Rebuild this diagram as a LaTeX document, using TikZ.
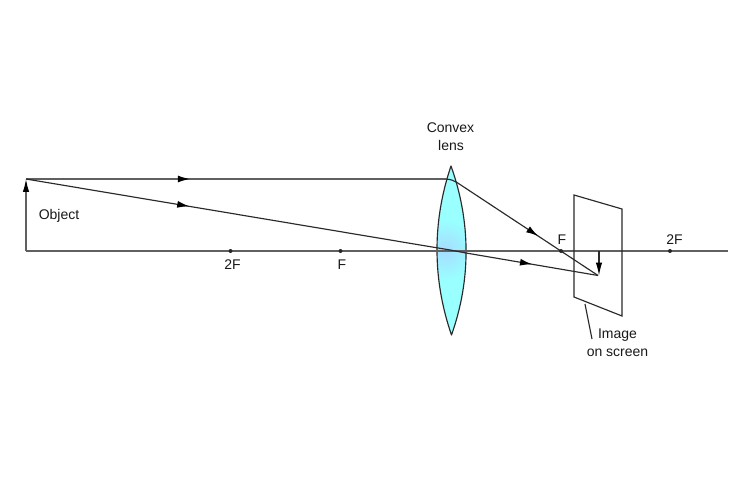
\documentclass[tikz,border=0pt]{standalone}
\usepackage{fontspec}
\setmainfont{Liberation Sans}
\usetikzlibrary{arrows.meta,decorations.markings,calc}
\definecolor{rayc}{HTML}{2A2A2A}
\definecolor{axisc}{HTML}{606060}
\definecolor{lensc}{HTML}{99FFFF}
\definecolor{lensm}{HTML}{A6DCFF}
\tikzset{
  ray/.style={draw=rayc,line width=1.15pt},
  axisline/.style={draw=axisc,line width=1.25pt},
  tip/.style={-{Latex[length=13pt,width=6.5pt,black]}},
  midtip/.style={postaction={decorate},decoration={markings,mark=at position #1 with {\arrow{Latex[length=12pt,width=7pt,black]}}}},
  lbl/.style={font=\fontsize{14}{16}\selectfont,text=black!90,inner sep=0pt,align=center},
  fdot/.style={circle,fill=black!85,inner sep=0pt,minimum size=4pt}
}
\begin{document}
\begin{tikzpicture}[x=1pt,y=-1pt]
\useasboundingbox (0,0) rectangle (750,500);
\fill[white] (0,0) rectangle (750,500);
% points
\coordinate (top) at (26,179);
\coordinate (base) at (26,251);
\coordinate (axend) at (728,251);
\coordinate (lt) at (451,166);
\coordinate (lb) at (451.5,335);
\coordinate (r1a) at (446,179);
\coordinate (r1b) at (457,182.5);
\coordinate (r2a) at (450,250);
\coordinate (r2b) at (466,253);
\coordinate (im) at (598,275.5);
\coordinate (imtop) at (599,251);
\coordinate (s1) at (574,195);
\coordinate (s2) at (622,209);
\coordinate (s3) at (622,316);
\coordinate (s4) at (574,297);
\coordinate (l1) at (585,304);
\coordinate (l2) at (592,339);
% lens
\begin{scope}
\clip (lt) .. controls (432,222) and (432.5,280) .. (lb) .. controls (471,280) and (471,222) .. (lt) -- cycle;
\fill[lensc] (420,160) rectangle (480,340);
\shade[inner color=lensm,outer color=lensc] (445,250) circle (30);
\end{scope}
\draw[draw=rayc,line width=1.15pt,line join=round] (lt) .. controls (432,222) and (432.5,280) .. (lb) .. controls (471,280) and (471,222) .. (lt) -- cycle;
% axis
\draw[axisline] (base) -- (axend);
\draw[axisline,tip] (base) -- (top);
% screen
\draw[ray,line join=miter] (s1) -- (s2) -- (s3) -- (s4) -- cycle;
\draw[ray] (l1) -- (l2);
% rays
\draw[axisline,midtip=0.39] (top) -- (r1a);
\draw[ray] (r1a) .. controls (451,179.5) and (454,180.5) .. (r1b);
\draw[ray,midtip=0.575] (r1b) -- (im);
\draw[ray,midtip=0.385] (top) -- (r2a);
\draw[ray] (r2a) -- (r2b);
\draw[ray,midtip=0.5] (r2b) -- (im);
\draw[ray,tip] (imtop) -- (599,275.5);
% dots
\node[fdot] (d1) at (230.5,251) {};
\node[fdot] (d2) at (340.5,251) {};
\node[fdot] (d3) at (561,251) {};
\node[fdot] (d4) at (670,251) {};
% labels
\node[lbl] (conv) at (450.5,128) {Convex};
\node[lbl] (lens) at (451,145) {lens};
\node[lbl] (obj) at (59,215.5) {Object};
\node[lbl] (t2f) at (232.5,265) {2F};
\node[lbl] (tf) at (342,264.5) {F};
\node[lbl] (tf2) at (562,240) {F};
\node[lbl] (t2f2) at (674.5,240) {2F};
\node[lbl] (img) at (617.5,335.5) {Image};
\node[lbl] (ons) at (617.5,352.5) {on screen};
\end{tikzpicture}
\end{document}
